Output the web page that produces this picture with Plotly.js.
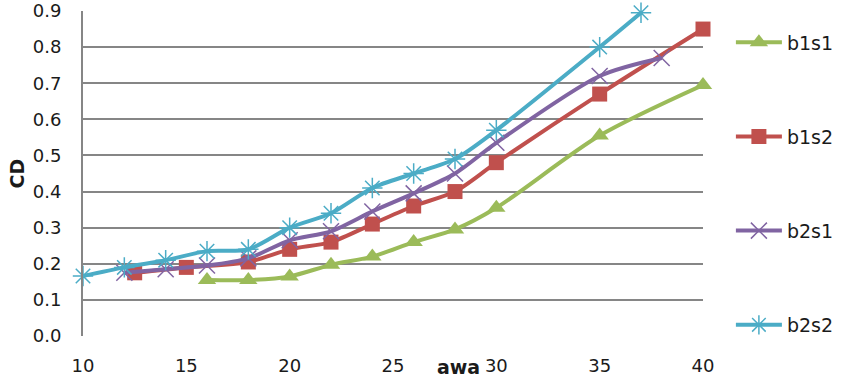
<!DOCTYPE html>
<html><head><meta charset="utf-8">
<script src="https://cdn.plot.ly/plotly-3.0.1.min.js"></script>
<style>html,body{margin:0;padding:0;background:#fff}#chart{width:852px;height:380px}</style>
</head><body><div id="chart"></div>
<script>
const seriesNames = ["b1s1", "b1s2", "b2s1", "b2s2"];
const colors = ["#9BBB59", "#C0504D", "#8064A2", "#4BACC6"];
const symbols = ["triangle-up", "square", "x-thin-open", "asterisk-open"];

const x_b1s1 = [16, 18, 20, 22, 24, 26, 28, 30, 35, 40];
const y_b1s1 = [0.155, 0.155, 0.165, 0.197, 0.22, 0.26, 0.295, 0.355, 0.555, 0.695];

const x_b1s2 = [12.5, 15, 18, 20, 22, 24, 26, 28, 30, 35, 40];
const y_b1s2 = [0.175, 0.19, 0.205, 0.24, 0.26, 0.31, 0.36, 0.40, 0.48, 0.67, 0.85];

const x_b2s1 = [12, 14, 16, 18, 20, 22, 24, 26, 28, 30, 35, 38];
const y_b2s1 = [0.175, 0.185, 0.195, 0.215, 0.265, 0.29, 0.345, 0.395, 0.45, 0.535, 0.72, 0.77];

const x_b2s2 = [10, 12, 14, 16, 18, 20, 22, 24, 26, 28, 30, 35, 37];
const y_b2s2 = [0.166, 0.19, 0.21, 0.235, 0.24, 0.30, 0.34, 0.41, 0.45, 0.49, 0.57, 0.80, 0.895];

const xs = [x_b1s1, x_b1s2, x_b2s1, x_b2s2];
const ys = [y_b1s1, y_b1s2, y_b2s1, y_b2s2];
const msizes = [16, 15, 16, 17];

const traces = seriesNames.map((n, i) => ({
  type: "scatter", mode: "lines+markers", name: n,
  x: xs[i], y: ys[i], legendgroup: n,
  cliponaxis: false,
  line: {color: colors[i], width: 4, shape: "spline", smoothing: 0.8},
  marker: {symbol: symbols[i], size: msizes[i], color: colors[i],
           line: {color: colors[i], width: (i >= 2 ? 1.5 : 0)}}
}));

const font = "DejaVu Sans, sans-serif";
const layout = {
  width: 852, height: 380,
  margin: {l: 83, r: 149, t: 11, b: 44},
  paper_bgcolor: "#fff", plot_bgcolor: "#fff",
  font: {family: font, size: 18, color: "#1a1a1a"},
  showlegend: true,
  legend: {x: 1.045, y: 0.962, xanchor: "left", yanchor: "top",
           traceorder: "grouped", tracegroupgap: 66.5,
           font: {family: font, size: 19, color: "#1a1a1a"}, itemwidth: 46},
  xaxis: {range: [10, 40], dtick: 5, tick0: 10, showgrid: false, zeroline: false,
          showline: false, ticks: "", ticklabelstandoff: 17,
          tickfont: {family: font, size: 18, color: "#1a1a1a"}},
  yaxis: {range: [0, 0.9], dtick: 0.1, tickformat: ".1f", showgrid: true,
          gridcolor: "#868686", gridwidth: 2, zeroline: false,
          showline: true, linecolor: "#868686", linewidth: 2,
          ticks: "", ticklabelstandoff: 16,
          tickfont: {family: font, size: 18, color: "#1a1a1a"}},
  annotations: [
    {text: "<b>awa</b>", xref: "paper", yref: "paper", x: 0.643, y: -0.095,
     xanchor: "right", yanchor: "middle", showarrow: false,
     font: {family: font, size: 19, color: "#1a1a1a"}},
    {text: "<b>CD</b>", xref: "paper", yref: "paper", x: -0.108, y: 0.5,
     xanchor: "center", yanchor: "middle", showarrow: false, textangle: -90,
     font: {family: font, size: 19, color: "#1a1a1a"}}
  ]
};
Plotly.newPlot("chart", traces, layout, {displayModeBar: false, staticPlot: true});
</script></body></html>
